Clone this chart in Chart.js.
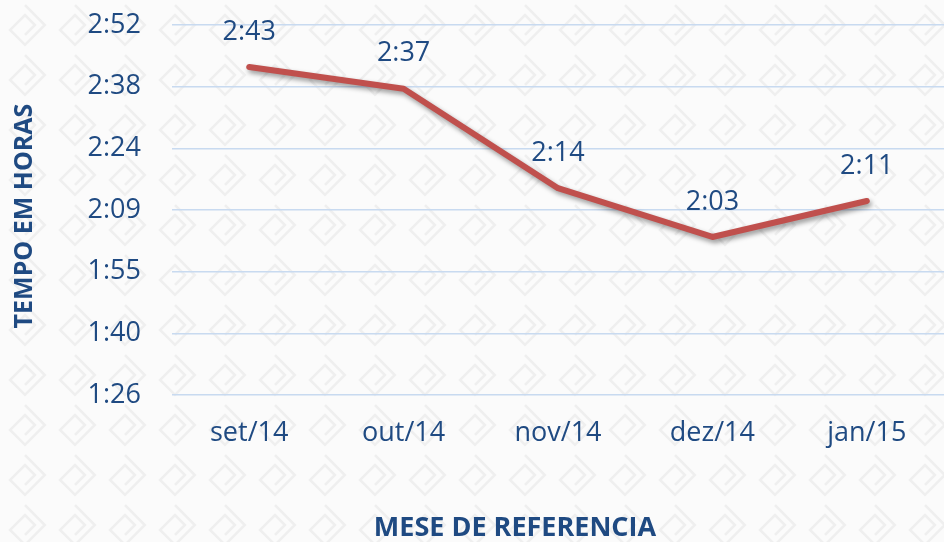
<!DOCTYPE html>
<html>
<head>
<meta charset="utf-8">
<script src="https://cdn.jsdelivr.net/npm/chart.js@4/dist/chart.umd.min.js"></script>
<style>
  html, body { margin: 0; padding: 0; background: #fdfdfd; }
  #wrap { width: 944px; height: 542px; }
</style>
</head>
<body>
<div id="wrap"><canvas id="c" width="944" height="542"></canvas></div>
<script>
// Data (time in minutes)
const categories = ['set/14', 'out/14', 'nov/14', 'dez/14', 'jan/15'];
const tempoMinutos = [163.0, 157.9, 134.7, 123.3, 131.7];
const yTickValues = [86.4, 100.8, 115.2, 129.6, 144.0, 158.4, 172.8];
const yTickLabels = ['1:26', '1:40', '1:55', '2:09', '2:24', '2:38', '2:52'];
const yTitle = 'TEMPO EM HORAS';
const xTitle = 'MESE DE REFERENCIA';

const TEXT = '#1F4A82';
const FONT = '"Open Sans", "Noto Sans", sans-serif';

function fmt(m) {
  const h = Math.floor(m / 60);
  const mm = Math.floor(m % 60);
  return h + ':' + String(mm).padStart(2, '0');
}

// subtle background pattern
function makePattern(ctx) {
  const t = document.createElement('canvas');
  t.width = 50; t.height = 50;
  const g = t.getContext('2d');
  g.fillStyle = '#fbfbfb';
  g.fillRect(0, 0, 50, 50);
  g.strokeStyle = '#efefef';
  g.lineWidth = 2.5;
  g.translate(25, 25);
  g.rotate(Math.PI / 4);
  g.beginPath();
  g.moveTo(-14, -14); g.lineTo(14, -14); g.lineTo(14, 14); g.lineTo(-7, 14); g.lineTo(-7, -7); g.lineTo(7, -7); g.lineTo(7, 7);
  g.stroke();
  return ctx.createPattern(t, 'repeat');
}

const bgPlugin = {
  id: 'bg',
  beforeDraw(chart) {
    const ctx = chart.ctx;
    ctx.save();
    ctx.fillStyle = makePattern(ctx);
    ctx.fillRect(0, 0, chart.width, chart.height);
    ctx.restore();
  }
};

const shadowPlugin = {
  id: 'shadow',
  beforeDatasetDraw(chart) {
    const ctx = chart.ctx;
    ctx.save();
    ctx.shadowColor = 'rgba(0,0,0,0.4)';
    ctx.shadowBlur = 5;
    ctx.shadowOffsetX = 2;
    ctx.shadowOffsetY = 3;
  },
  afterDatasetDraw(chart) {
    chart.ctx.restore();
  }
};

const labelsPlugin = {
  id: 'vals',
  afterDatasetsDraw(chart) {
    const ctx = chart.ctx;
    const meta = chart.getDatasetMeta(0);
    ctx.save();
    ctx.font = '27px ' + FONT;
    ctx.fillStyle = TEXT;
    ctx.textAlign = 'center';
    ctx.textBaseline = 'middle';
    meta.data.forEach((pt, i) => {
      ctx.fillText(fmt(chart.data.datasets[0].data[i]), pt.x, pt.y - 35);
    });
    ctx.restore();
  }
};

const titlesPlugin = {
  id: 'titles',
  afterDraw(chart) {
    const ctx = chart.ctx;
    ctx.save();
    ctx.fillStyle = TEXT;
    ctx.font = 'bold 25px ' + FONT;
    ctx.textAlign = 'center';
    ctx.textBaseline = 'middle';
    ctx.translate(25, 216);
    ctx.rotate(-Math.PI / 2);
    ctx.fillText(yTitle, 0, 0);
    ctx.restore();
    ctx.save();
    ctx.fillStyle = TEXT;
    ctx.font = 'bold 27px ' + FONT;
    ctx.textAlign = 'center';
    ctx.textBaseline = 'middle';
    ctx.fillText(xTitle, 515, 528);
    ctx.restore();
  }
};

new Chart(document.getElementById('c'), {
  type: 'line',
  data: {
    labels: categories,
    datasets: [{
      data: tempoMinutos,
      borderColor: '#C0504D',
      borderWidth: 6,
      borderCapStyle: 'round',
      borderJoinStyle: 'round',
      pointRadius: 0,
      tension: 0,
      fill: false
    }]
  },
  options: {
    responsive: false,
    animation: false,
    devicePixelRatio: 1,
    layout: { padding: { top: 25, right: 0, bottom: 0, left: 0 } },
    plugins: { legend: { display: false }, tooltip: { enabled: false } },
    scales: {
      x: {
        offset: true,
        grid: { display: false, drawTicks: false },
        border: { display: false },
        ticks: { color: TEXT, font: { family: FONT, size: 27 }, padding: 22, maxRotation: 0 },
        afterFit(s) { s.height = 147; }
      },
      y: {
        min: 86.4,
        max: 172.8,
        grid: { color: '#C8DAF0', lineWidth: 1.5, drawTicks: false },
        border: { display: false },
        ticks: {
          color: TEXT,
          font: { family: FONT, size: 27 },
          padding: 31,
          callback: (v, i) => yTickLabels[i]
        },
        afterBuildTicks(s) { s.ticks = yTickValues.map(v => ({ value: v })); },
        afterFit(s) { s.width = 172; s.paddingTop = 0; s.paddingBottom = 0; }
      }
    }
  },
  plugins: [bgPlugin, shadowPlugin, labelsPlugin, titlesPlugin]
});
</script>
</body>
</html>
